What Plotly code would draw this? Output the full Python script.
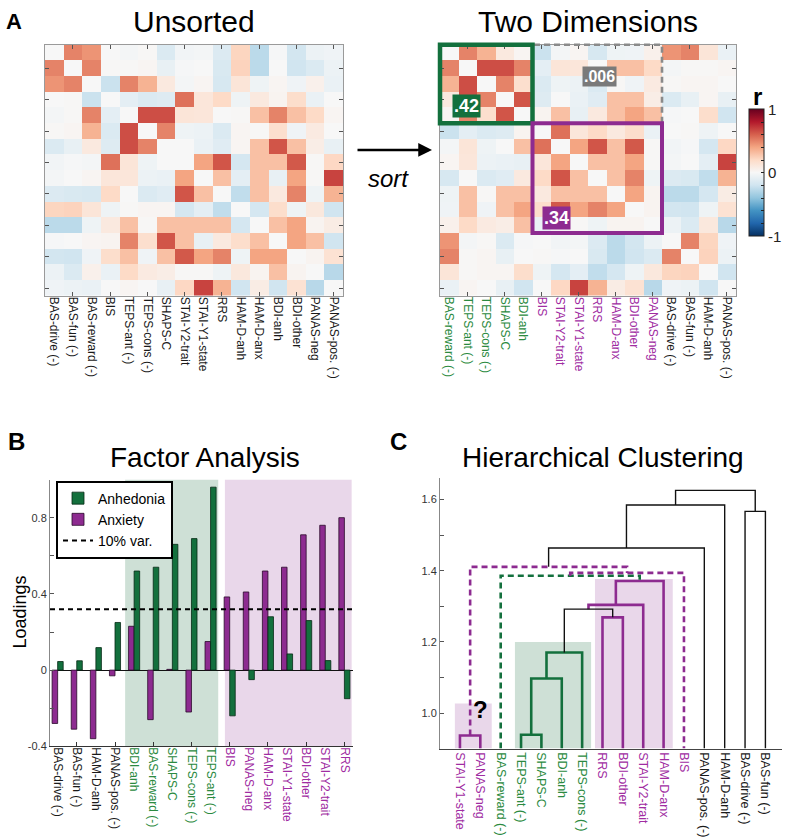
import numpy as np
import plotly.graph_objects as go

W, H = 786, 840
def fx(x): return x / W
def fy(y): return 1 - y / H

FONT = "Liberation Sans, Arial, Helvetica, sans-serif"
GREEN = "#13703d"
PURPLE = "#8d2b90"
GREEN_TXT = "#2b8a40"
PURPLE_TXT = "#a02ca2"
GREEN_SH = "rgba(24,110,60,0.21)"
PURPLE_SH = "rgba(140,43,143,0.19)"

# ---------------- Panel A data ----------------
labels_unsorted = ["BAS-drive (-)", "BAS-fun (-)", "BAS-reward (-)", "BIS", "TEPS-ant (-)",
                   "TEPS-cons (-)", "SHAPS-C", "STAI-Y2-trait", "STAI-Y1-state", "RRS",
                   "HAM-D-anh", "HAM-D-anx", "BDI-anh", "BDI-other", "PANAS-neg", "PANAS-pos. (-)"]

corr_unsorted = [
    [0, .50, .45, 0, -.02, .01, -.15, -.03, -.02, -.14, .22, -.27, -.01, -.19, -.06, -.04],
    [.50, 0, .50, .01, .01, .02, -.08, -.01, 0, -.16, .23, -.27, 0, -.20, -.15, -.06],
    [.45, .50, 0, -.22, .50, .35, .10, -.02, .02, -.17, .13, -.05, .02, -.04, .05, -.07],
    [0, .01, -.22, 0, -.10, -.15, -.13, .55, .12, .20, -.05, .10, .03, .18, -.07, 0],
    [-.02, .01, .50, -.10, 0, .65, .65, .13, .12, 0, .01, .30, .50, .30, .20, .02],
    [.01, .02, .35, -.15, .65, 0, .50, -.05, -.06, -.15, .02, .01, .17, -.04, .09, 0],
    [-.15, -.08, .10, -.13, .65, .50, 0, 0, -.07, -.12, .02, .30, .63, .30, .07, -.08],
    [-.03, -.01, -.02, .55, .13, -.05, 0, 0, .40, .63, -.18, .30, .30, .62, .01, .21],
    [-.02, 0, .02, .12, .12, -.06, -.07, .40, 0, .30, -.10, .30, -.08, .40, .01, .68],
    [-.14, -.16, -.17, .20, 0, -.15, -.12, .63, .30, 0, -.25, .30, .10, .50, -.05, .35],
    [.22, .23, .13, -.05, .01, .02, .02, -.18, -.10, -.25, 0, -.18, .18, -.05, .11, -.20],
    [-.27, -.27, -.05, .10, .30, .01, .30, .30, .30, .30, -.18, 0, .30, .40, .03, .08],
    [-.01, 0, .02, .03, .50, .17, .63, .30, -.08, .10, .18, .30, 0, .40, .30, -.20],
    [-.19, -.20, -.04, .18, .30, -.04, .30, .62, .40, .50, -.05, .40, .40, 0, .03, .15],
    [-.06, -.15, .05, -.07, .20, .09, .07, .01, .01, -.05, .11, .03, .30, .03, 0, -.28],
    [-.04, -.06, -.07, 0, .02, 0, -.08, .21, .68, .35, -.20, .08, -.20, .15, -.28, 0],
]

labels_sorted = ["BAS-reward (-)", "TEPS-ant (-)", "TEPS-cons (-)", "SHAPS-C", "BDI-anh",
                 "BIS", "STAI-Y2-trait", "STAI-Y1-state", "RRS", "HAM-D-anx", "BDI-other", "PANAS-neg",
                 "BAS-drive (-)", "BAS-fun (-)", "HAM-D-anh", "PANAS-pos. (-)"]
groups_sorted = ["g"] * 5 + ["p"] * 7 + ["k"] * 4
block_values = [".42", ".006", ".34"]

# ---------------- Panel B data ----------------
b_labels = ["BAS-drive (-)", "BAS-fun (-)", "HAM-D-anh", "PANAS-pos. (-)", "BDI-anh",
            "BAS-reward (-)", "SHAPS-C", "TEPS-cons (-)", "TEPS-ant (-)", "BIS", "PANAS-neg",
            "HAM-D-anx", "STAI-Y1-state", "BDI-other", "STAI-Y2-trait", "RRS"]
b_groups = ["k"] * 4 + ["g"] * 5 + ["p"] * 7
anhedonia = [0.045, 0.049, 0.118, 0.25, 0.52, 0.54, 0.66, 0.69, 0.96,
             -0.24, -0.05, 0.28, 0.085, 0.26, 0.05, -0.15]
anxiety = [-0.28, -0.31, -0.36, -0.03, 0.23, -0.26, 0.004, -0.22, 0.15,
           0.384, 0.41, 0.52, 0.54, 0.71, 0.76, 0.80]
threshold = 0.32

# ---------------- Panel C data ----------------
c_leaves = ["STAI-Y1-state", "PANAS-neg", "BAS-reward (-)", "TEPS-ant (-)", "SHAPS-C", "BDI-anh",
            "TEPS-cons (-)", "RRS", "BDI-other", "STAI-Y2-trait", "HAM-D-anx", "BIS",
            "PANAS-pos. (-)", "HAM-D-anh", "BAS-drive (-)", "BAS-fun (-)"]
c_groups = ["p", "p", "g", "g", "g", "g", "g", "p", "p", "p", "p", "p", "k", "k", "k", "k"]
# (node a, node b, merge height); new nodes numbered from 16
c_links = [(0, 1, 0.937), (3, 4, 0.939), (17, 5, 1.097), (18, 6, 1.170), (7, 8, 1.269),
           (19, 20, 1.292), (21, 9, 1.304), (22, 10, 1.371), (2, 23, 1.386), (24, 11, 1.394),
           (16, 25, 1.411), (26, 12, 1.464), (14, 15, 1.567), (27, 13, 1.585), (29, 28, 1.626)]
c_link_style = ["p", "g", "g", "g", "p", "k", "p", "p", "gd", "pd", "pd", "k", "k", "k", "k"]

# ---------------- helpers ----------------
def colored(lbl, grp):
    c = {"g": GREEN_TXT, "p": PURPLE_TXT, "k": "#1a1a1a"}[grp]
    return f'<span style="color:{c}">{lbl}</span>'

rdbu = ['rgb(5,48,97)', 'rgb(33,102,172)', 'rgb(67,147,195)', 'rgb(146,197,222)',
        'rgb(209,229,240)', 'rgb(247,247,247)', 'rgb(253,219,199)', 'rgb(244,165,130)',
        'rgb(214,96,77)', 'rgb(178,24,43)', 'rgb(103,0,31)']
cscale = [[i / 10, c] for i, c in enumerate(rdbu)]

M = np.array(corr_unsorted)
order = [labels_unsorted.index(l) for l in labels_sorted]
M_sorted = M[np.ix_(order, order)]
n = len(labels_unsorted)
idx = list(range(n))

fig = go.Figure()

fig.add_trace(go.Heatmap(z=M, x=idx, y=idx, xaxis="x", yaxis="y", zmin=-1, zmax=1,
                         colorscale=cscale, showscale=False, hoverinfo="skip"))
fig.add_trace(go.Heatmap(
    z=M_sorted, x=idx, y=idx, xaxis="x2", yaxis="y2", zmin=-1, zmax=1, colorscale=cscale,
    showscale=True, hoverinfo="skip",
    colorbar=dict(x=fx(749), xanchor="left", y=fy(238), yanchor="bottom", len=128 / H,
                  lenmode="fraction", thickness=15, thicknessmode="pixels",
                  outlinewidth=1, outlinecolor="#222", ticks="inside", ticklen=3,
                  tickcolor="#222", tickvals=[round(-1 + 0.2 * i, 1) for i in range(11)],
                  ticktext=["-1", "", "", "", "", "0", "", "", "", "", "1"],
                  tickfont=dict(size=15, color="#222", family=FONT),
                  xpad=0, ypad=0)))

# dummy traces so overlay label axes are rendered
for xa, ya in [("x5", "y"), ("x6", "y2"), ("x7", "y3")]:
    fig.add_trace(go.Scatter(x=[0], y=[0], xaxis=xa, yaxis=ya, mode="markers",
                             marker=dict(opacity=0), showlegend=False, hoverinfo="skip"))

# ---- Panel B ----
bx = list(range(len(b_labels)))
fig.add_trace(go.Bar(x=bx, y=anxiety, name="Anxiety", xaxis="x3", yaxis="y3",
                     marker=dict(color=PURPLE, line=dict(color="#2a0a2a", width=0.8)),
                     legendrank=2, hoverinfo="skip"))
fig.add_trace(go.Bar(x=bx, y=anhedonia, name="Anhedonia", xaxis="x3", yaxis="y3",
                     marker=dict(color=GREEN, line=dict(color="#062a15", width=0.8)),
                     legendrank=1, hoverinfo="skip"))
bxr = [-0.4, 15.45]
fig.add_trace(go.Scatter(x=bxr, y=[threshold, threshold], mode="lines", name="10% var.",
                         xaxis="x3", yaxis="y3", line=dict(color="black", width=2, dash="5px,4px"),
                         legendrank=3, hoverinfo="skip"))

# ---- Panel C dendrogram ----
c_base = 0.9
pos = {i: (float(i), c_base) for i in range(len(c_leaves))}
segs = {}
for k, (a, b, h) in enumerate(c_links):
    xa_, ha = pos[a]
    xb_, hb = pos[b]
    X, Y = segs.setdefault(c_link_style[k], ([], []))
    X += [xa_, xa_, xb_, xb_, None]
    Y += [ha, h, h, hb, None]
    pos[len(c_leaves) + k] = ((xa_ + xb_) / 2, h)
style_map = {"p": (PURPLE, 2.6, "solid"), "g": (GREEN, 2.6, "solid"), "k": ("#111", 1.4, "solid"),
             "gd": (GREEN, 2.6, "6px,4px"), "pd": (PURPLE, 2.6, "6px,4px")}
for st, (X, Y) in segs.items():
    col, wd, dsh = style_map[st]
    fig.add_trace(go.Scatter(x=X, y=Y, mode="lines", xaxis="x4", yaxis="y4", showlegend=False,
                             line=dict(color=col, width=wd, dash=dsh), hoverinfo="skip"))

# ---------------- layout ----------------
tickfont = dict(size=12, color="#1a1a1a", family=FONT)
odd = list(range(1, n, 2))
hm_common = dict(showgrid=False, zeroline=False, showline=True, linecolor="#9a9a9a", linewidth=1,
                 mirror="ticks", ticks="inside", ticklen=4, tickcolor="#555", tickvals=odd,
                 showticklabels=False)
lbl_common = dict(range=[-0.5, n - 0.5], tickvals=idx, ticks="", showline=False, showgrid=False,
                  zeroline=False, tickangle=90, tickfont=tickfont, side="bottom")

hmX = (45, 343); hmX2 = (440, 736); hmY = (45, 298)

layout_axes = dict(
    xaxis=dict(domain=[fx(hmX[0]), fx(hmX[1])], anchor="y", range=[-0.5, n - 0.5], **hm_common),
    yaxis=dict(domain=[fy(hmY[1]), fy(hmY[0])], anchor="x", range=[n - 0.5, -0.5], **hm_common),
    xaxis2=dict(domain=[fx(hmX2[0]), fx(hmX2[1])], anchor="y2", range=[-0.5, n - 0.5], **hm_common),
    yaxis2=dict(domain=[fy(hmY[1]), fy(hmY[0])], anchor="x2", range=[n - 0.5, -0.5], **hm_common),
    xaxis5=dict(overlaying="x", anchor="y", ticktext=labels_unsorted, **lbl_common),
    xaxis6=dict(overlaying="x2", anchor="y2",
                ticktext=[colored(l, g) for l, g in zip(labels_sorted, groups_sorted)], **lbl_common),
    xaxis3=dict(domain=[fx(50), fx(353)], anchor="y3", range=bxr, showline=True, linecolor="#333",
                linewidth=1, ticks="inside", ticklen=4, tickcolor="#333", tickvals=odd,
                showticklabels=False, showgrid=False, zeroline=False),
    xaxis7=dict(overlaying="x3", anchor="y3",
                ticktext=[colored(l, g) for l, g in zip(b_labels, b_groups)],
                **{**lbl_common, "range": bxr}),
    yaxis3=dict(domain=[fy(751.7), fy(483)], anchor="x3", range=[-0.4, 1.0], showline=True,
                linecolor="#888", linewidth=1, ticks="inside", ticklen=4, tickcolor="#555",
                tickvals=[-0.4, -0.2, 0, 0.2, 0.4, 0.6, 0.8],
                ticktext=["-0.4", "", "0", "", "0.4", "", "0.8"],
                tickfont=dict(size=11, color="#333", family=FONT), showgrid=False,
                zeroline=True, zerolinecolor="#111", zerolinewidth=1),
    xaxis4=dict(domain=[fx(440), fx(781.7)], anchor="y4", range=[-0.98, 15.8], showline=True,
                linecolor="#444", linewidth=1.2, ticks="", tickvals=list(range(len(c_leaves))),
                ticktext=[colored(l, g) for l, g in zip(c_leaves, c_groups)], tickangle=90,
                tickfont=dict(size=12.5, family=FONT), showgrid=False, zeroline=False),
    yaxis4=dict(domain=[fy(754), fy(481.7)], anchor="x4", range=[c_base, 1.66], showline=True,
                linecolor="#888", linewidth=1, ticks="inside", ticklen=4, tickcolor="#555",
                tickvals=[1.0, 1.1, 1.2, 1.3, 1.4, 1.5, 1.6],
                ticktext=["1.0", "", "1.2", "", "1.4", "", "1.6"],
                tickfont=dict(size=11, color="#333", family=FONT), showgrid=False, zeroline=False),
)

# ---- shapes ----
shapes = []
cw = (hmX2[1] - hmX2[0]) / n
ch = (hmY[1] - hmY[0]) / n
ng = groups_sorted.count("g"); npur = groups_sorted.count("p")
def cellbox(c0, c1, r0, r1, color, width, dash="solid"):
    return dict(type="rect", xref="paper", yref="paper",
                x0=fx(hmX2[0] + c0 * cw), x1=fx(hmX2[0] + c1 * cw),
                y0=fy(hmY[0] + r1 * ch), y1=fy(hmY[0] + r0 * ch),
                line=dict(color=color, width=width, dash=dash), layer="above")
shapes.append(cellbox(ng, ng + npur, 0, ng, "#8a8a8a", 2.6, "6px,4px"))
shapes.append(cellbox(0, ng, 0, ng, GREEN, 4.5))
shapes.append(cellbox(ng, ng + npur, ng, ng + npur, PURPLE, 4))

# Panel B shading
gi = [i for i, g in enumerate(b_groups) if g == "g"]
pi = [i for i, g in enumerate(b_groups) if g == "p"]
shapes.append(dict(type="rect", xref="x3", yref="y3", x0=gi[0] - 0.47, x1=gi[-1] + 0.4,
                   y0=-0.4, y1=1.0, fillcolor=GREEN_SH, line=dict(width=0), layer="below"))
shapes.append(dict(type="rect", xref="x3", yref="y3", x0=pi[0] - 0.25, x1=pi[-1] + 0.38,
                   y0=-0.4, y1=1.0, fillcolor=PURPLE_SH, line=dict(width=0), layer="below"))
# Panel C shading
shapes.append(dict(type="rect", xref="x4", yref="y4", x0=-0.25, x1=1.56, y0=c_base, y1=1.027,
                   fillcolor=PURPLE_SH, line=dict(width=0), layer="below"))
shapes.append(dict(type="rect", xref="x4", yref="y4", x0=2.7, x1=6.44, y0=c_base, y1=1.2,
                   fillcolor=GREEN_SH, line=dict(width=0), layer="below"))
shapes.append(dict(type="rect", xref="x4", yref="y4", x0=6.63, x1=10.45, y0=c_base, y1=1.377,
                   fillcolor=PURPLE_SH, line=dict(width=0), layer="below"))

# ---- annotations ----
def txt(x, y, t, size, **kw):
    d = dict(x=fx(x), y=fy(y), xref="paper", yref="paper", text=t, showarrow=False,
             font=dict(size=size, family=FONT, color=kw.pop("color", "black")),
             xanchor="center", yanchor="middle")
    d.update(kw)
    return d

ann = [
    txt(14, 22, "<b>A</b>", 22),
    txt(194, 22, "Unsorted", 30),
    txt(588, 22, "Two Dimensions", 30),
    txt(388, 180, "<i>sort</i>", 24),
    dict(x=fx(432), y=fy(151), xref="paper", yref="paper", text="", showarrow=True,
         ax=-76, ay=0, arrowhead=2, arrowsize=1.1, arrowwidth=2.5, arrowcolor="black"),
    txt(757, 97, "<b>r</b>", 24),
    txt(16, 445, "<b>B</b>", 24),
    txt(205, 461, "Factor Analysis", 28),
    txt(20, 617, "Loadings", 18, textangle=-90),
    txt(398, 445, "<b>C</b>", 24),
    txt(603, 461, "Hierarchical Clustering", 28),
    txt(466.5, 107, f"<b>{block_values[0]}</b>", 18, color="white", bgcolor=GREEN, borderpad=1),
    txt(599.5, 77, f"<b>{block_values[1]}</b>", 16, color="white", bgcolor="#7a7a7a", borderpad=1),
    txt(556.5, 220, f"<b>{block_values[2]}</b>", 18, color="white", bgcolor=PURPLE, borderpad=1),
    dict(x=1.0, y=1.01, xref="x4", yref="y4", text="<b>?</b>", showarrow=False,
         font=dict(size=24, family=FONT, color="black")),
]

fig.update_layout(
    width=W, height=H, margin=dict(l=0, r=0, t=0, b=0), autosize=False,
    paper_bgcolor="white", plot_bgcolor="white", font=dict(family=FONT, color="black"),
    barmode="group", bargap=0.42, bargroupgap=0,
    showlegend=True,
    legend=dict(x=fx(56), y=fy(484), xanchor="left", yanchor="top", bordercolor="black",
                borderwidth=2, bgcolor="white", font=dict(size=14, family=FONT),
                tracegroupgap=0, itemwidth=30),
    shapes=shapes, annotations=ann, **layout_axes)

fig.write_html("out.html")
